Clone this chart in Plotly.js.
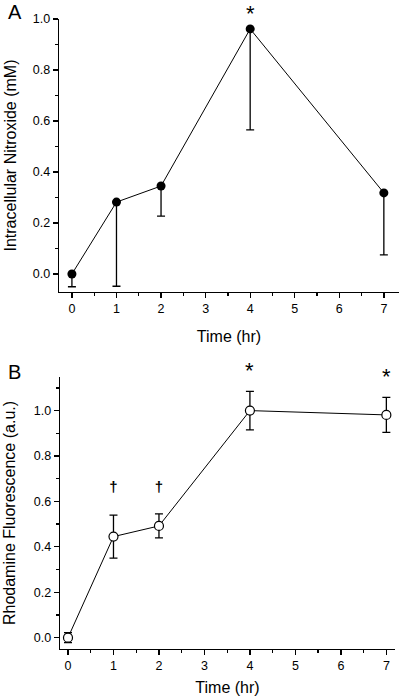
<!DOCTYPE html>
<html><head><meta charset="utf-8">
<script src="https://cdn.plot.ly/plotly-3.0.1.min.js"></script>
<style>html,body{margin:0;padding:0;background:#fff}#chart{width:400px;height:699px}</style>
</head><body><div id="chart"></div>
<script>
// Panel A: intracellular nitroxide
const timeA = [0, 1, 2, 4, 7];
const nitroxide = [0.0, 0.282, 0.345, 0.961, 0.318];
const nitroxideErrLow = [0.05, 0.33, 0.118, 0.396, 0.243];
const nitroxideErrHigh = [0, 0, 0, 0, 0];
// Panel B: rhodamine fluorescence
const timeB = [0, 1, 2, 4, 7];
const rhodamine = [0.0, 0.445, 0.492, 1.0, 0.981];
const rhodamineErr = [0.022, 0.095, 0.053, 0.085, 0.077];
// significance marks (stars placed above the point they flag)
const starAidx = [3];            // index into timeA
const starAshift = [15];
const daggerBx = [1, 2], daggerBy = [0.66, 0.66], daggerBtext = ['†', '†'];
const starBidx = [3, 4];         // indices into timeB
const starBshift = [40, 38];
const xTicks = [0, 1, 2, 3, 4, 5, 6, 7];
const yTicksA = [0.0, 0.2, 0.4, 0.6, 0.8, 1.0];
const yTicksB = [0.0, 0.2, 0.4, 0.6, 0.8, 1.0];

const FONT = 'Liberation Sans, Arial, sans-serif';
const H = 699, W = 400;
const py = v => 1 - v / H, px = v => v / W;

const traces = [
  {x: timeA, y: nitroxide, type: 'scatter', mode: 'lines+markers', xaxis: 'x', yaxis: 'y',
   line: {color: '#000', width: 1},
   marker: {color: '#000', size: 9, line: {width: 0}},
   error_y: {type: 'data', symmetric: false, array: nitroxideErrHigh, arrayminus: nitroxideErrLow,
             color: '#000', thickness: 1.3, width: 4}},
  {x: timeB, y: rhodamine, type: 'scatter', mode: 'lines+markers', xaxis: 'x2', yaxis: 'y2',
   line: {color: '#000', width: 1},
   marker: {color: '#fff', size: 9, line: {color: '#000', width: 1.2}},
   error_y: {type: 'data', array: rhodamineErr, color: '#000', thickness: 1.3, width: 4}},
  {x: daggerBx, y: daggerBy, text: daggerBtext, type: 'scatter', mode: 'text', xaxis: 'x2', yaxis: 'y2',
   textposition: 'middle center', cliponaxis: false,
   textfont: {family: FONT, size: 15, color: '#000', weight: 'bold'}}
];

const axCommon = {
  showline: true, linecolor: '#000', linewidth: 1.3, showgrid: false, zeroline: false,
  ticks: 'outside', ticklen: 5, tickwidth: 1.3, tickcolor: '#000',
  tickfont: {family: FONT, size: 12.5, color: '#000'}, automargin: false, fixedrange: true
};
const minorX = {dtick: 0.5, tick0: 0, ticks: 'outside', ticklen: 3, tickwidth: 1.3, tickcolor: '#000'};
const minorY = {dtick: 0.1, tick0: 0, ticks: 'outside', ticklen: 3, tickwidth: 1.3, tickcolor: '#000'};
const titleFont = {family: FONT, size: 16, color: '#000'};

const starAnn = (xs, ys, idx, shifts, xr, yr) => idx.map((i, k) => ({
  text: '*', xref: xr, yref: yr, x: xs[i], y: ys[i], yshift: shifts[k],
  xanchor: 'center', yanchor: 'middle', showarrow: false,
  font: {family: FONT, size: 22, color: '#000'}
}));

const layout = {
  width: W, height: H, showlegend: false,
  paper_bgcolor: '#fff', plot_bgcolor: '#fff',
  margin: {l: 0, r: 0, t: 0, b: 0},
  font: {family: FONT, color: '#000'},
  xaxis: Object.assign({}, axCommon, {
    domain: [px(59), px(399)], range: [-0.29, 7.34], anchor: 'y',
    tickvals: xTicks, ticktext: xTicks.map(String), minor: minorX,
    title: {text: 'Time (hr)', font: titleFont, standoff: 15}
  }),
  yaxis: Object.assign({}, axCommon, {
    domain: [py(292), py(19)], range: [-0.0706, 1.0], anchor: 'x',
    tickvals: yTicksA, ticktext: yTicksA.map(v => v.toFixed(1)), minor: minorY,
    title: {text: 'Intracellular Nitroxide (mM)', font: titleFont, standoff: 12}
  }),
  xaxis2: Object.assign({}, axCommon, {
    domain: [px(60), px(395)], range: [-0.176, 7.19], anchor: 'y2',
    tickvals: xTicks, ticktext: xTicks.map(String), minor: minorX,
    title: {text: 'Time (hr)', font: titleFont, standoff: 9}
  }),
  yaxis2: Object.assign({}, axCommon, {
    domain: [py(649), py(377)], range: [-0.05, 1.148], anchor: 'x2',
    tickvals: yTicksB, ticktext: yTicksB.map(v => v.toFixed(1)), minor: minorY,
    title: {text: 'Rhodamine Fluorescence (a.u.)', font: titleFont, standoff: 14}
  }),
  annotations: [
    {text: 'A', xref: 'paper', yref: 'paper', x: px(15), y: py(12), xanchor: 'center', yanchor: 'middle',
     showarrow: false, font: {family: FONT, size: 20, color: '#000'}},
    {text: 'B', xref: 'paper', yref: 'paper', x: px(14.5), y: py(371.5), xanchor: 'center', yanchor: 'middle',
     showarrow: false, font: {family: FONT, size: 20, color: '#000'}}
  ].concat(starAnn(timeA, nitroxide, starAidx, starAshift, 'x', 'y'))
   .concat(starAnn(timeB, rhodamine, starBidx, starBshift, 'x2', 'y2'))
};

Plotly.newPlot('chart', traces, layout, {displayModeBar: false, staticPlot: true});
</script></body></html>
